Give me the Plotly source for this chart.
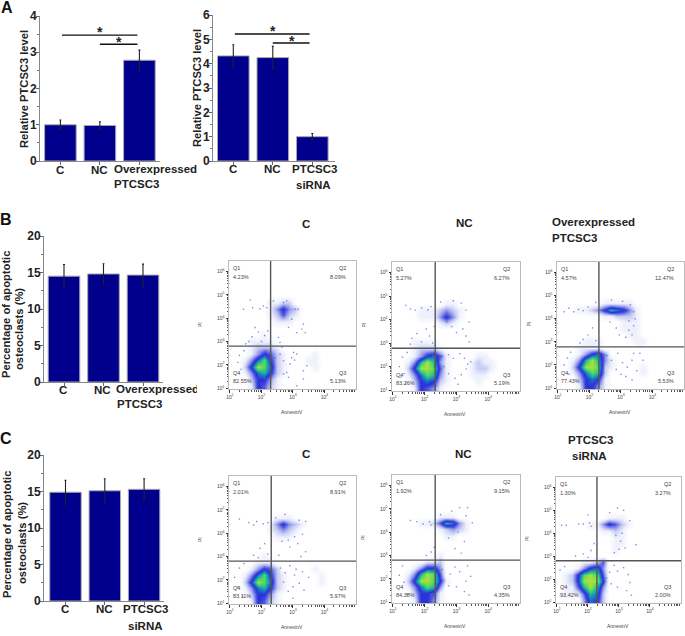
import numpy as np
import plotly.graph_objects as go

W, H = 685, 636
FONT = "Liberation Sans"
BAR = "#00008c"

# ---- bar data ----
a1_vals = [1.0, 0.98, 2.78]
a1_err = [0.13, 0.10, 0.28]
a2_vals = [4.32, 4.25, 1.0]
a2_err = [0.46, 0.46, 0.13]
b_vals = [14.5, 14.8, 14.65]
b_err = [1.6, 1.4, 1.5]
c_vals = [14.9, 15.1, 15.3]
c_err = [1.65, 1.65, 1.45]

# ---- flow cytometry density grids (top row first, 20 x 20 cells) ----
E = "0" * 20
g_bc = [E]*6 + ["00000011220000000000","00000013532000000000","00000012421000000000","00000001110000000000",
 "00000000000000000000","00000100000000000000","00011110000000000000","00012221000000000000",
 "00013542100001000000","00136852100011000000","00259862100001000000","00136752100000000000",
 "00025531000000000000","00015421000000000000"]
g_bn = [E]*6 + ["00000000110000000000","00001112321000000000","00001113531000000000","00000001210000000000",
 "00000000000000000000","00000000000000000000","00011110000000000000","00012221000000000000",
 "00013564100001100000","00137973100012110000","00259984100012210000","00136873100011100000",
 "00025652100001000000","00015431000000000000"]
g_bo = [E]*5 + ["00000000000000000000","00000001111100000000","00011235765310000000","00000001122210000000",
 "00000000001110000000","00000000001110000000","00000000000110000000","00001110000011000000",
 "00011110000000000000","00013563000000000000","00137973100000000000","00259982100001000000",
 "00136872000001000000","00025651000000000000","00015531000000000000"]
g_cc = [E]*6 + ["00000001110000000000","00000013532100000000","00000012321000000000","00000001110000000000",
 "00000000000000000000","00000000000000000000","00000100000000000000","00001110000000000000",
 "00013542000001000000","00136852100000100000","00259862100000100000","00136752100000000000",
 "00025531000000000000","00015421000000000000"]
g_cn = [E]*5 + ["00000000000000000000","00000001110000000000","00001124763100000000","00000001232100000000",
 "00000000110000000000","00000000000000000000","00000000000000000000","00000001000000000000",
 "00000112000000000000","00013553000000000000","00137984000000000000","00259985100000000000",
 "00136873000000000000","00025541000000000000","00015531000000000000"]
g_cs = [E]*5 + ["00000000000000000000","00000000111000000000","00000113542100000000","00000001121000000000",
 "00000000011000000000","00000000011000000000","00000000010000000000","00000000000000000000",
 "00001124000000000000","00013563000000000000","01258984000000000000","01259995000000000000",
 "01147973000000000000","01114762000000000000","00003652000000000000"]

# ---- sparse events outside the dense cores, read as (log10 AnnexinV, log10 PI) ----
s_bc = [(1.64,4.77),(1.43,4.38),(1.72,4.45),(1.95,4.4),(2.06,4.52),(2.17,4.45),(2.38,4.74),(3.07,4.38),(3.17,4.38),(3.33,3.74),
 (3.28,3.53),(3.39,3.38),(2.96,3.95),(2.86,3.6),(2.54,3.17),(2.59,2.96),(3.12,3.38),(2.7,4.67),(2.8,4.74),(2.43,2.3),
 (2.59,2.46),(2.7,2.17),(2.8,1.67),(2.86,1.46),(3.02,2.53),(3.12,2.46),(2.96,2.3),(2.91,2.03),(2.7,1.6),(3.33,1.74),
 (3.33,1.39),(3.44,1.96),(3.12,1.1),(1.7,3.2),(1.9,3.4),(2.0,3.0),(1.6,3.0),(1.8,3.6),(2.1,3.25),(2.2,3.45),
 (1.5,2.9),(1.3,2.4),(1.25,2.1),(1.45,2.6),(2.15,2.6),(2.2,1.9),(2.1,1.4),(1.35,1.8),(2.25,2.3),(3.05,2.2),(2.65,2.75)]
s_bn = [(1.4,4.6),(1.55,4.45),(1.7,4.4),(1.9,4.5),(2.1,4.42),(2.2,4.55),(2.5,4.75),(2.9,4.8),(3.15,4.7),(3.3,4.4),
 (3.4,3.9),(3.2,3.6),(3.3,3.3),(2.85,3.7),(3.0,3.45),(2.7,3.9),(3.4,3.05),(2.75,2.5),(2.9,2.35),(3.1,2.55),
 (3.25,2.35),(3.35,2.1),(2.6,2.0),(2.75,1.7),(2.95,1.5),(3.15,1.65),(3.3,1.9),(3.45,2.2),(2.55,2.45),(3.05,1.25),
 (1.6,3.2),(1.75,3.4),(1.9,3.05),(2.05,3.6),(2.15,3.3),(2.25,3.0),(1.55,2.95),(2.3,3.7),(1.3,2.4),(1.2,2.0),
 (1.35,1.7),(1.45,2.6),(2.25,2.5),(2.3,2.0),(2.2,1.4),(1.4,1.3),(1.25,1.55)]
s_bo = [(1.2,4.3),(1.35,4.45),(1.5,4.3),(1.65,4.4),(1.8,4.35),(1.95,4.5),(2.2,4.7),(2.7,4.8),(3.05,4.75),(3.3,4.6),
 (3.4,4.3),(3.45,4.0),(3.25,3.9),(3.4,3.7),(3.25,3.5),(3.35,3.3),(3.15,3.2),(2.85,3.6),(2.95,3.3),(2.65,3.85),
 (3.4,2.5),(3.6,2.5),(3.7,2.2),(2.55,2.4),(2.7,2.2),(2.9,2.5),(3.05,2.1),(3.2,1.9),(3.35,2.2),(3.5,1.75),
 (2.85,1.8),(3.0,1.6),(3.15,1.5),(3.35,1.35),(1.8,3.1),(1.95,3.3),(2.1,3.6),(2.2,3.05),(1.7,2.95),(1.3,2.3),
 (1.2,2.0),(1.4,2.55),(2.25,2.5),(2.3,1.9),(2.2,1.3),(1.35,1.6)]
s_cc = [(1.3,4.6),(1.6,4.45),(1.75,4.35),(1.85,4.5),(2.05,4.4),(2.2,4.45),(2.45,4.65),(2.75,4.8),(3.2,4.55),(3.4,4.5),
 (3.3,3.95),(3.05,3.85),(2.85,3.7),(3.15,3.55),(2.9,3.4),(2.65,3.65),(3.4,3.2),(3.25,3.0),(2.55,3.05),(2.6,2.5),
 (2.75,2.3),(2.9,2.6),(3.1,2.45),(3.05,2.2),(3.3,2.35),(3.5,2.1),(2.7,1.9),(2.85,1.5),(3.0,1.7),(3.2,1.85),
 (3.35,1.55),(3.0,1.2),(1.75,3.05),(1.95,3.35),(2.1,3.55),(2.2,3.1),(1.9,2.95),(1.3,2.5),(1.15,2.1),(1.25,1.7),
 (1.45,2.7),(2.25,2.5),(2.3,1.95),(2.25,1.4),(1.4,1.3)]
s_cn = [(1.55,4.5),(1.75,4.45),(1.95,4.35),(2.15,4.45),(2.2,4.3),(2.5,4.75),(2.85,4.9),(3.1,5.05),(3.35,5.05),(3.3,4.7),
 (3.5,4.4),(3.05,4.0),(3.25,3.6),(2.95,3.3),(3.15,3.1),(2.75,3.75),(2.55,2.4),(2.8,2.2),(2.95,2.5),(3.1,2.3),
 (3.35,2.55),(3.45,2.1),(3.3,1.9),(2.75,1.7),(3.0,1.65),(3.25,1.45),(3.4,1.3),(2.6,1.95),(2.2,3.15),(2.3,3.35),
 (2.05,3.0),(1.3,2.55),(1.2,2.15),(1.35,1.85),(2.3,2.4),(2.35,1.8),(2.2,1.3),(1.45,1.35)]
s_cs = [(1.15,4.35),(1.3,4.35),(1.7,4.4),(1.85,4.4),(2.05,4.45),(2.1,4.3),(2.0,4.8),(2.7,4.9),(2.95,5.1),(3.15,5.0),
 (3.35,4.55),(3.1,4.0),(2.9,3.9),(3.05,3.65),(3.0,3.3),(3.2,3.35),(2.85,3.15),(3.55,3.5),(2.85,2.6),(2.7,2.3),
 (2.95,2.35),(3.15,2.5),(3.3,2.2),(3.35,1.85),(2.75,1.8),(2.95,1.65),(3.25,1.5),(3.4,1.3),(2.6,2.05),(1.85,3.1),
 (2.0,2.95),(2.1,3.25),(2.2,3.55),(1.6,3.0),(1.1,2.4),(1.25,2.55),(2.3,2.3),(2.3,1.8),(2.25,1.2)]

q_bc = ["4.23%", "8.09%", "5.13%", "82.55%"]
q_bn = ["5.27%", "6.27%", "5.19%", "83.26%"]
q_bo = ["4.57%", "12.47%", "5.53%", "77.43%"]
q_cc = ["2.01%", "8.91%", "5.97%", "83.11%"]
q_cn = ["1.92%", "9.15%", "4.35%", "84.38%"]
q_cs = ["1.30%", "3.27%", "2.00%", "93.42%"]

gate_x = [2.29, 2.33, 2.30, 2.31, 2.33, 2.29]
gate_y = [2.80, 2.78, 2.78, 2.80, 2.80, 2.80]
grids = [g_bc, g_bn, g_bo, g_cc, g_cn, g_cs]
sparse = [s_bc, s_bn, s_bo, s_cc, s_cn, s_cs]
quads = [q_bc, q_bn, q_bo, q_cc, q_cn, q_cs]
frames = [(229, 356, 261, 389), (392, 520, 262, 391), (557, 684, 262, 389),
          (229, 356, 476, 604), (392, 520, 475, 603), (556, 681, 477, 603)]

XR = [0.97, 5.0]
YR = [0.96, 6.45]
SCALE = [[0, "#ffffff"], [0.11, "#eef0fc"], [0.22, "#c8ccf4"], [0.33, "#9098ea"], [0.44, "#5058e0"],
         [0.55, "#2a30d8"], [0.66, "#1b70c8"], [0.77, "#20b0a0"], [0.88, "#50d860"], [1, "#a8e040"]]

fig = go.Figure()
layout = dict(width=W, height=H, margin=dict(l=0, r=0, t=0, b=0, autoexpand=False), showlegend=False,
              plot_bgcolor="rgba(0,0,0,0)", paper_bgcolor="white", font=dict(family=FONT, color="#222"))
ann = []
shp = []


def px(x):
    return x / W


def py(y):
    return 1 - y / H


def text(x, y, s, size=11.5, bold=True, anchor="center", angle=0, color="#222"):
    ann.append(dict(xref="paper", yref="paper", x=px(x), y=py(y), text=f"<b>{s}</b>" if bold else s,
                    showarrow=False, font=dict(size=size, color=color, family=FONT), xanchor=anchor,
                    yanchor="middle", textangle=angle))


n = 0


def axes():
    global n
    n += 1
    s = str(n) if n > 1 else ""
    return "x" + s, "y" + s, "xaxis" + s, "yaxis" + s


def bars(vals, errs, left, right, top, bottom, ymax, dy, c0, step):
    xr, yr, xa, ya = axes()
    x = [0, 1, 2]
    fig.add_trace(go.Bar(x=x, y=vals, width=0.8, xaxis=xr, yaxis=yr, marker=dict(color=BAR, line=dict(color="#a8a8a8", width=1)),
                         error_y=dict(type="data", array=errs, color="#222", thickness=1.1, width=1)))
    layout[xa] = dict(domain=[px(left), px(right)], range=[(left - c0) / step, (right - c0) / step], anchor=yr,
                      tickvals=x, ticktext=["", "", ""], ticks="outside", ticklen=3, tickcolor="#666", linecolor="#888",
                      linewidth=1, showgrid=False, zeroline=False)
    layout[ya] = dict(domain=[py(bottom), py(top)], range=[0, ymax], anchor=xr, tickvals=list(range(0, ymax + 1, dy)),
                      ticks="outside", ticklen=3, tickcolor="#666", linecolor="#888", linewidth=1, showgrid=False,
                      zeroline=False, tickfont=dict(size=12, color="#222", family=FONT, weight="bold"),
                      ticklabelstandoff=-3,
                      minor=dict(ticks="outside", ticklen=2, tickcolor="#777", dtick=dy / 2))
    return xr, yr


def sig(xr, yr, x0, x1, y):
    shp.append(dict(type="line", xref=xr, yref=yr, x0=x0, x1=x1, y0=y, y1=y, line=dict(color="#111", width=1.3)))


# Panel A
xr, yr = bars(a1_vals, a1_err, 40, 160, 16, 161, 4, 1, 60.4, 39.5)
sig(xr, yr, 0.04, 1.95, 3.47)
sig(xr, yr, 1.0, 1.95, 3.22)
xr, yr = bars(a2_vals, a2_err, 213, 335, 15, 161, 6, 1, 233.3, 39.5)
sig(xr, yr, 0.04, 1.93, 5.22)
sig(xr, yr, 1.0, 1.93, 4.85)
# Panel B, C
bars(b_vals, b_err, 44, 163, 236, 382, 20, 5, 64, 39.5)
bars(c_vals, c_err, 44, 164, 455, 601, 20, 5, 65.5, 39.3)

# flow panels
for grid, sp, q, gx, gy, (l, r, t, b) in zip(grids, sparse, quads, gate_x, gate_y, frames):
    xr, yr, xa, ya = axes()
    z = np.array([[int(c) for c in row] for row in grid[::-1]])
    xs = XR[0] + (np.arange(20) + 0.5) * (XR[1] - XR[0]) / 20
    ys = YR[0] + (np.arange(20) + 0.5) * (YR[1] - YR[0]) / 20
    fig.add_trace(go.Heatmap(x=xs, y=ys, z=z, zmin=0, zmax=9, colorscale=SCALE, zsmooth="best", showscale=False,
                             xaxis=xr, yaxis=yr, hoverinfo="skip"))
    fig.add_trace(go.Scatter(x=[p[0] for p in sp], y=[p[1] for p in sp], mode="markers", xaxis=xr, yaxis=yr,
                             marker=dict(size=1.4, color="#5060dc", opacity=0.7, symbol="square"), hoverinfo="skip"))
    mx = [d + np.log10(k) for d in range(1, 5) for k in range(2, 10)]
    my = [d + np.log10(k) for d in range(1, 6) for k in range(2, 10)]
    layout[xa] = dict(domain=[px(l), px(r)], range=XR, anchor=yr, tickvals=[1, 2, 3, 4],
                      ticktext=["10<sup>1</sup>", "10<sup>2</sup>", "10<sup>3</sup>", "10<sup>4</sup>"],
                      ticks="outside", ticklen=2.5, tickcolor="#333", linecolor="#bbb", mirror=True, showgrid=False,
                      zeroline=False, tickfont=dict(size=5, color="#444"),
                      minor=dict(ticks="outside", ticklen=1.5, tickcolor="#555", tickvals=mx))
    layout[ya] = dict(domain=[py(b), py(t)], range=YR, anchor=xr, tickvals=[1, 2, 3, 4, 5, 6],
                      ticktext=[f"10<sup>{i}</sup>" for i in range(1, 7)],
                      ticks="outside", ticklen=2.5, tickcolor="#333", linecolor="#bbb", mirror=True, showgrid=False,
                      zeroline=False, tickfont=dict(size=5, color="#444"),
                      minor=dict(ticks="outside", ticklen=1.5, tickcolor="#555", tickvals=my))
    shp.append(dict(type="line", xref=xr, yref=yr, x0=gx, x1=gx, y0=YR[0], y1=YR[1], line=dict(color="#555", width=1.4)))
    shp.append(dict(type="line", xref=xr, yref=yr, x0=XR[0], x1=XR[1], y0=gy, y1=gy, line=dict(color="#555", width=1.4)))
    col = "#444"
    text(l + 2, t + 7, "Q1", 5.5, False, "left", color=col)
    text(l + 2, t + 16, q[0], 5.5, False, "left", color=col)
    text(r - 8, t + 7, "Q2", 5.5, False, "right", color=col)
    text(r - 8, t + 16, q[1], 5.5, False, "right", color=col)
    text(r - 8, b - 16, "Q3", 5.5, False, "right", color=col)
    text(r - 8, b - 8, q[2], 5.5, False, "right", color=col)
    text(l + 2, b - 16, "Q4", 5.5, False, "left", color=col)
    text(l + 2, b - 8, q[3], 5.5, False, "left", color=col)
    text((l + r) / 2 - 1, b + 23, "AnnexinV", 5, False, color=col)
    text(l - 29, (t + b) / 2 - 1, "PI", 5, False, angle=-90, color=col)

# clipped label of panel B
xr, yr, xa, ya = axes()
fig.add_trace(go.Scatter(x=[116], y=[390], mode="text", text=["<b>Overexpressed</b>"], textposition="middle right",
                         textfont=dict(size=11.5, color="#222", family=FONT), xaxis=xr, yaxis=yr, cliponaxis=True,
                         hoverinfo="skip"))
layout[xa] = dict(domain=[0, px(197)], range=[0, 197], visible=False)
layout[ya] = dict(domain=[py(400), py(380)], range=[400, 380], visible=False)

# letters
text(7, 8, "A", 16, anchor="center", color="#111")
text(6, 220, "B", 16, color="#111")
text(6, 438, "C", 16, color="#111")
# y titles
text(24, 89, "Relative PTCSC3 level", 11.2, angle=-90)
text(197, 88, "Relative PTCSC3 level", 11.2, angle=-90)
text(6, 315, "Percentage of apoptotic", 11.2, angle=-90)
text(19, 329, "osteoclasts (%)", 11.2, angle=-90)
text(7, 535, "Percentage of apoptotic", 11.2, angle=-90)
text(22, 543, "osteoclasts (%)", 11.2, angle=-90)
# category labels
for x, y, s in [(60, 170, "C"), (99, 170, "NC"), (155.7, 169, "Overexpressed"), (136, 184, "PTCSC3"),
                (232.7, 169, "C"), (272.7, 169, "NC"), (314, 169, "PTCSC3"), (313, 185, "siRNA"),
                (63, 390, "C"), (102.7, 390, "NC"), (139.3, 404, "PTCSC3"),
                (65, 609, "C"), (104.7, 609, "NC"), (145.7, 609, "PTCSC3"), (145, 626, "siRNA")]:
    text(x, y, s)
# group titles
for x, y, s in [(306, 224, "C"), (464, 223, "NC"), (590, 440, "PTCSC3"), (589, 456, "siRNA"),
                (306, 454, "C"), (463, 454, "NC")]:
    text(x, y, s)
text(550, 222, "Overexpressed", anchor="left")
text(550, 238, "PTCSC3", anchor="left")
# stars
for x, y in [(100, 32), (119, 42), (273, 31), (292, 41)]:
    text(x, y, "*", 14)

layout["annotations"] = ann
layout["shapes"] = shp
fig.update_layout(**layout)
fig.write_html("out.html", config=dict(displayModeBar=False), post_script="document.body.style.margin='0';")
